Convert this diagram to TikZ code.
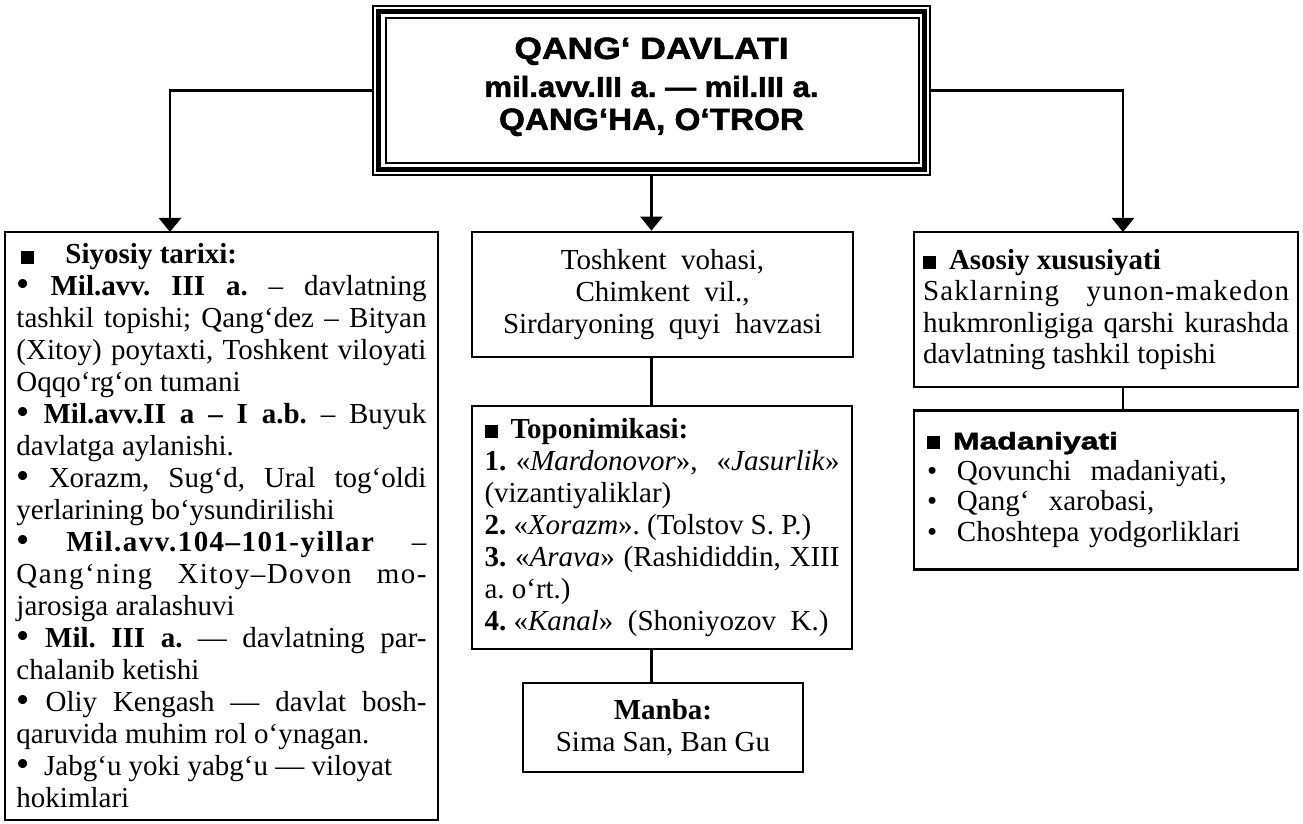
\documentclass[tikz,border=0pt]{standalone}
\usepackage{fontspec}
\usepackage{graphicx}
\setmainfont{Liberation Serif}
\newfontfamily\hsans{Liberation Sans}[BoldFeatures={FakeBold=1.6}]
\usetikzlibrary{arrows.meta,calc}
\newcommand{\sqbox}{\rule{6.5pt}{6.5pt}}
\newcommand{\bul}{\raisebox{-0.3pt}{\scalebox{1.3}{•}}}
\frenchspacing
\begin{document}
\begin{tikzpicture}[x=0.5pt,y=-0.5pt,
  box/.style={draw, line width=1.35pt, inner sep=0pt,
    font=\frenchspacing\fontsize{14.5}{16}\selectfont,
    execute at begin node=\setlength{\parindent}{0pt}},
  rbox/.style={box, font=\frenchspacing\fontsize{14.5}{15.8}\selectfont},
  link/.style={line width=1.35pt},
  arr/.style={line width=1.35pt, -{Triangle[length=7pt,width=11pt]}},
  ttl/.style={anchor=base, inner sep=0pt}
]
\useasboundingbox (0,0) rectangle (1303,824);

% ---------- title ----------
\node[draw, line width=1pt, minimum width=278.5pt, minimum height=84.5pt, inner sep=0pt] (title) at (651.5,90.5) {};
\draw[line width=2.5pt] ($(title.north west)+(6.5,6.5)$) rectangle ($(title.south east)+(-6.5,-6.5)$);
\draw[line width=1pt] ($(title.north west)+(13.5,13.5)$) rectangle ($(title.south east)+(-12.5,-13)$);
\node[ttl, font=\hsans\bfseries\fontsize{15.4}{17}\selectfont] (t1) at (651.5,59) {\scalebox{1.15}[1]{QANG‘ DAVLATI}};
\node[ttl, font=\hsans\bfseries\fontsize{14.5}{16}\selectfont] (t2) at (651.5,97) {\scalebox{1.07}[1]{mil.avv.III a. — mil.III a.}};
\node[ttl, font=\hsans\bfseries\fontsize{15.4}{17}\selectfont] (t3) at (651.5,130) {\scalebox{1.08}[1]{QANG‘HA, O‘TROR}};

% ---------- left box ----------
\node[box, text width=205pt, minimum width=216.5pt, minimum height=294pt, align=justify] (left) at (221.5,526) {%
\hspace*{2pt}\sqbox\hspace{16pt}\textbf{Siyosiy tarixi:}\\
\bul\ \textbf{Mil.avv. III a.} – davlatning\linebreak
tashkil topishi; Qang‘dez – Bityan\linebreak
(Xitoy) poytaxti, Toshkent viloyati\linebreak
Oqqo‘rg‘on tumani\\
\bul\ \textbf{Mil.avv.II a – I a.b.} – Buyuk\linebreak
davlatga aylanishi.\\
\bul\ Xorazm, Sug‘d, Ural tog‘oldi\linebreak
yerlarining bo‘ysundirilishi\\
\bul\ \textbf{\addfontfeature{LetterSpace=5}Mil.avv.104–101-yillar} –\linebreak
{\addfontfeature{LetterSpace=5}Qang‘ning Xitoy–Dovon mo-}\linebreak
jarosiga aralashuvi\\
\bul\ \textbf{Mil. III a.} — davlatning par-\linebreak
chalanib ketishi\\
\bul\ Oliy Kengash — davlat bosh-\linebreak
qaruvida muhim rol o‘ynagan.\\
\bul\ \ Jabg‘u yoki yabg‘u — viloyat\\
hokimlari};

% ---------- middle column ----------
\node[box, minimum width=190.5pt, minimum height=62.5pt, align=center] (mid1) at (662.5,294.5)
  {Toshkent\ \ vohasi,\\ Chimkent\ \ vil.,\\ Sirdaryoning\ \ quyi\ \ havzasi};
\node[box, text width=177.5pt, minimum width=190pt, minimum height=121.5pt, align=justify] (mid2) at (662,527.5) {%
\sqbox\hspace{6.5pt}\textbf{Toponimikasi:}\\
\textbf{1.} «\textit{Mardonovor}», \ «\textit{Jasurlik}»\linebreak
(vizantiyaliklar)\\
\textbf{2.} «\textit{Xorazm}». (Tolstov S. P.)\\
\textbf{3.} «\textit{Arava}» (Rashididdin, XIII\linebreak
a. o‘rt.)\\
\textbf{4.} «\textit{Kanal}» \ (Shoniyozov \ K.)};
\node[box, minimum width=140pt, minimum height=44.5pt, align=center] (mid3) at (663,727.5)
  {\textbf{Manba:}\\ Sima San, Ban Gu};

% ---------- right column ----------
\node[rbox, text width=183pt, minimum width=192pt, minimum height=77.5pt, align=justify] (right1) at (1106,309.5) {%
\sqbox\hspace{6.5pt}\textbf{Asosiy xususiyati}\\
{\addfontfeature{LetterSpace=4}Saklarning yunon-makedon}\linebreak
hukmronligiga qarshi kurashda\linebreak
davlatning tashkil topishi};
\node[rbox, text width=183pt, minimum width=192pt, minimum height=79.5pt, align=left,
  font=\frenchspacing\fontsize{14.5}{15.4}\selectfont] (right2) at (1106,490) {%
\hspace*{2pt}\sqbox\hspace{6.5pt}{\hsans\bfseries\fontsize{12}{14}\selectfont\scalebox{1.33}[1]{Madaniyati}}\\
\hspace*{2pt}\makebox[15pt][l]{•}Qovunchi\ \ madaniyati,\\
\hspace*{2pt}\makebox[15pt][l]{•}Qang‘\ \ xarobasi,\\
\hspace*{2pt}\makebox[15pt][l]{•}Choshtepa yodgorliklari};

% ---------- connectors ----------
\coordinate (la) at (170,232);
\coordinate (ra) at (1123,232);
\draw[arr] (title.west) -| (la);
\draw[arr] (title.east) -| (ra);
\draw[arr] (title.south) -- (title.south |- mid1.north);
\draw[link] (mid1.south -| title.south) -- (mid2.north -| title.south);
\draw[link] (mid2.south -| title.south) -- (mid3.north -| title.south);
\draw[link] (right1.south -| ra) -- (right2.north -| ra);
\end{tikzpicture}
\end{document}
